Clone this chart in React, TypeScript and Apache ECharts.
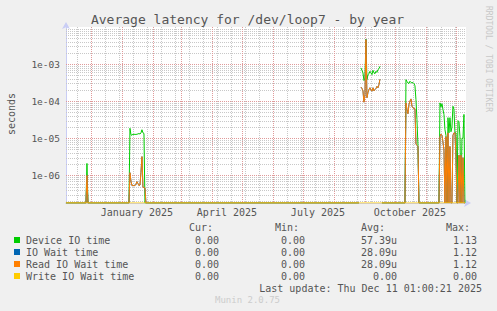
import React, { useEffect, useRef } from "react";
import * as echarts from "echarts";

// ---- time range (400 days, one point per day) ----
const AXIS_START = Date.UTC(2024, 10, 6, 1, 0, 21);
const AXIS_END = Date.UTC(2025, 11, 11, 1, 0, 21);
const FIRST_DAY = "2024-11-06";
const DAY_COUNT = 400;
const Y_MIN = 1.8e-7;
const Y_MAX = 1e-2;

// ---- series values: [first day, daily values] ----
const deviceIoSegments: [string, number[]][] = [
  ["2024-11-27", [2.1e-6]],
  ["2025-01-09", [1.86e-5, 1.25e-5, 1.2e-5, 1.3e-5, 1.25e-5, 1.3e-5, 1.25e-5, 1.3e-5, 1.3e-5, 1.35e-5, 1.3e-5, 1.4e-5, 1.7e-5, 1.4e-5, 1.35e-5]],
  ["2025-08-28", [7.9e-4, 6.8e-4, 5.8e-4, 3.6e-4, 4.2e-4, 4.7e-3, 3.8e-4, 5.2e-4, 5.5e-4, 6.4e-4, 5.8e-4, 5.2e-4, 6.8e-4, 5.8e-4, 5.5e-4, 6.4e-4, 6.0e-4, 7.1e-4, 7.5e-4, 8.7e-4]],
  ["2025-10-12", [3.8e-4, 3.4e-4, 3.1e-4, 3.0e-4, 3.45e-4, 3.2e-4, 3.1e-4, 3.2e-4, 3.0e-4, 2.6e-4, 1.1e-4, 3.2e-5, 6.5e-6]],
  ["2025-11-15", [9e-5, 7e-5, 8.5e-5, 6e-5, 4.4e-5, 1.7e-5, 1.2e-5, 0, 3.6e-5, 1.4e-5, 3.6e-5, 1.5e-5, 2e-5, 7.3e-5, 6e-5, 1.4e-5, 1.4e-5, 0, 3e-5, 2.8e-5, 1.1e-5, 0, 1e-5, 1e-5, 4.4e-5]],
];

const readWaitSegments: [string, number[]][] = [
  ["2024-11-27", [1.0e-6]],
  ["2025-01-09", [1.18e-6, 7e-7, 5.3e-7, 5.3e-7, 5.3e-7, 5.3e-7, 5.8e-7, 6.8e-7, 6e-7, 5.3e-7, 5.5e-7, 1.2e-6, 3.2e-6, 4.8e-7, 4.7e-7, 4.6e-7]],
  ["2025-08-28", [2.4e-4, 2.2e-4, 1.9e-4, 9.4e-5, 1.5e-4, 4.55e-3, 1.24e-4, 1.7e-4, 2.06e-4, 2.3e-4, 2.0e-4, 1.86e-4, 2.3e-4, 1.9e-4, 2.06e-4, 2.2e-4, 2.5e-4, 2.3e-4, 2.8e-4, 3.9e-4]],
  ["2025-10-12", [9e-5, 6e-5, 4.6e-5, 8.1e-5, 1.0e-4, 1.15e-4, 7.3e-5, 6.6e-5, 6.4e-5, 6.2e-5, 7e-6, 6.5e-6, 6e-6]],
  ["2025-11-15", [1.1e-5, 1.3e-5, 1.2e-5, 8e-6, 4.8e-6, 0, 1.1e-5, 0, 1.4e-5, 0, 6e-6, 0, 0, 1.2e-5, 1.4e-5, 1.4e-5, 3.2e-6, 0, 0, 3.5e-6, 0, 3.5e-6, 0, 3e-6, 0]],
];

// IO wait equals read IO wait in this period
const ioWaitSegments: [string, number[]][] = readWaitSegments;
const writeWaitSegments: [string, number[]][] = [];

// days without data (unknown) for device / io / read
const unknownDays = ["2025-08-27", "2025-09-17"];

// ---- axis labels ----
const xLabelDates = ["2025-01-16", "2025-04-16", "2025-07-16", "2025-10-16"];
const xLabelTexts = ["January 2025", "April 2025", "July 2025", "October 2025"];
const yLabelValues = [1e-6, 1e-5, 1e-4, 1e-3];
const yLabelTexts = ["1e-06", "1e-05", "1e-04", "1e-03"];

// ---- legend ----
const legendNames = ["Device IO time", "IO Wait time", "Read IO Wait time", "Write IO Wait time"];
const legendColors = ["#00cc00", "#0066b3", "#ff8000", "#ffcc00"];
const curValues = ["0.00", "0.00", "0.00", "0.00"];
const minValues = ["0.00", "0.00", "0.00", "0.00"];
const avgValues = ["57.39u", "28.09u", "28.09u", "0.00"];
const maxValues = ["1.13", "1.12", "1.12", "0.00"];

const TITLE = "Average latency for /dev/loop7 - by year";
const LAST_UPDATE = "Last update: Thu Dec 11 01:00:21 2025";
const MUNIN = "Munin 2.0.75";
const WATERMARK = "RRDTOOL / TOBI OETIKER";

const DAY_MS = 86400000;
const parseDay = (s: string) => {
  const [y, m, d] = s.split("-").map(Number);
  return Date.UTC(y, m - 1, d);
};

function buildSeries(segments: [string, number[]][], unknown: string[]) {
  const start = parseDay(FIRST_DAY);
  const vals: (number | null)[] = new Array(DAY_COUNT).fill(0);
  segments.forEach(([day, list]) => {
    const off = Math.round((parseDay(day) - start) / DAY_MS);
    list.forEach((v, i) => {
      if (off + i >= 0 && off + i < DAY_COUNT) vals[off + i] = v;
    });
  });
  unknown.forEach((day) => {
    const off = Math.round((parseDay(day) - start) / DAY_MS);
    if (off >= 0 && off < DAY_COUNT) vals[off] = null;
  });
  return vals.map((v, i) => [start + i * DAY_MS, v === null ? null : Math.max(v, Y_MIN)]);
}

const FONT = "'DejaVu Sans Mono', monospace";

// dotted line as a path of 1x1 squares (every other pixel)
function dotPath(horizontal: boolean, fixed: number, from: number, to: number) {
  let d = "";
  for (let t = Math.round(from); t < to; t += 2) {
    d += horizontal ? `M${t} ${fixed}h1v1h-1z` : `M${fixed} ${t}h1v1h-1z`;
  }
  return d;
}

export default function App() {
  const ref = useRef<HTMLDivElement>(null);

  useEffect(() => {
    document.body.style.margin = "0";
    const chart = echarts.init(ref.current!, null, { renderer: "svg" });

    // grid line positions
    const monthStarts: number[] = [];
    for (let m = 0; m < 13; m++) monthStarts.push(Date.UTC(2024, 11 + m, 1));
    const biweekly: number[] = [];
    for (let t = Date.UTC(2024, 10, 17); t < AXIS_END; t += 14 * DAY_MS) biweekly.push(t);
    const minorY: number[] = [];
    for (let e = -7; e <= -3; e++) for (let k = 2; k <= 9; k++) {
      const v = k * Math.pow(10, e);
      if (v > Y_MIN) minorY.push(v);
    }
    const majorY = [1e-6, 1e-5, 1e-4, 1e-3];
    const MID_X = AXIS_START + 200 * DAY_MS;
    const MID_Y = 1e-4;

    const gridSeries = (name: string, color: string, xs: number[], ys: number[], z: number) => ({
      name,
      type: "custom",
      silent: true,
      z,
      data: [...xs.map((x) => [x, MID_Y, 0]), ...ys.map((y) => [MID_X, y, 1])],
      dimensions: ["x", "y", "dir"],
      encode: { x: 0, y: 1 },
      renderItem: (params: any, api: any) => {
        const cs = params.coordSys;
        const p = api.coord([api.value(0), api.value(1)]);
        const horizontal = Number(api.value(2)) === 1;
        const d = horizontal
          ? dotPath(true, Math.round(p[1]), cs.x, cs.x + cs.width)
          : dotPath(false, Math.round(p[0]), cs.y, cs.y + cs.height);
        return {
          type: "path",
          shape: { pathData: d },
          style: { fill: color, stroke: null },
        };
      },
    });

    const dataSeries = (name: string, color: string, segs: [string, number[]][], unknown: string[], z: number) => ({
      name,
      type: "line",
      data: buildSeries(segs, unknown),
      showSymbol: false,
      connectNulls: false,
      lineStyle: { color, width: 1 },
      itemStyle: { color },
      z,
      silent: true,
    });

    const legendGraphics: any[] = [];
    const headerY = 227;
    const heads: [string, number][] = [["Cur:", 201], ["Min:", 287], ["Avg:", 373], ["Max:", 458]];
    heads.forEach(([t, x]) =>
      legendGraphics.push({
        type: "text", x, y: headerY,
        style: { text: t, font: `10px ${FONT}`, fill: "#555", align: "center", textAlign: "center", verticalAlign: "middle", textVerticalAlign: "middle" },
      })
    );
    legendNames.forEach((n, i) => {
      const y = 240 + i * 12;
      legendGraphics.push({ type: "rect", shape: { x: 14, y: y - 3, width: 6, height: 6 }, style: { fill: legendColors[i] } });
      legendGraphics.push({
        type: "text", x: 26, y,
        style: { text: n, font: `10px ${FONT}`, fill: "#555", align: "left", textAlign: "left", verticalAlign: "middle", textVerticalAlign: "middle" },
      });
      const cols: [string[], number][] = [[curValues, 219], [minValues, 305], [avgValues, 397], [maxValues, 477]];
      cols.forEach(([arr, x]) =>
        legendGraphics.push({
          type: "text", x, y,
          style: { text: arr[i], font: `10px ${FONT}`, fill: "#555", align: "right", textAlign: "right", verticalAlign: "middle", textVerticalAlign: "middle" },
        })
      );
    });

    const labelTimes = xLabelDates.map(parseDay);

    chart.setOption({
      animation: false,
      backgroundColor: "#f0f0f0",
      grid: { left: 66, right: 31, top: 27, bottom: 108, show: true, backgroundColor: "#ffffff", borderWidth: 0 },
      xAxis: {
        type: "value",
        min: AXIS_START,
        max: AXIS_END,
        axisLine: {
          show: true, onZero: false,
          lineStyle: { color: "#c9cdf5", width: 1 },
          symbol: ["none", "arrow"], symbolSize: [6, 7], symbolOffset: [0, 5],
        },
        axisTick: { show: false },
        splitLine: { show: false },
        axisLabel: {
          customValues: labelTimes,
          formatter: (v: number) => {
            const i = labelTimes.indexOf(v);
            return i >= 0 ? xLabelTexts[i] : "";
          },
          color: "#555",
          fontFamily: FONT,
          fontSize: 10,
          margin: 4,
          hideOverlap: false,
        },
      },
      yAxis: {
        type: "log",
        logBase: 10,
        min: Y_MIN,
        max: Y_MAX,
        axisLine: {
          show: true,
          lineStyle: { color: "#c9cdf5", width: 1 },
          symbol: ["none", "arrow"], symbolSize: [6, 7], symbolOffset: [0, 5],
        },
        axisTick: { show: false },
        splitLine: { show: false },
        axisLabel: {
          formatter: (v: number) => {
            for (let i = 0; i < yLabelValues.length; i++) {
              if (Math.abs(Math.log10(v) - Math.log10(yLabelValues[i])) < 1e-6) return yLabelTexts[i];
            }
            return "";
          },
          color: "#555",
          fontFamily: FONT,
          fontSize: 9.5,
          margin: 6,
        },
      },
      series: [
        gridSeries("minorGrid", "#c8c8c8", biweekly, minorY, 1),
        gridSeries("majorGrid", "#e09a9a", monthStarts, majorY, 2),
        dataSeries(legendNames[0], legendColors[0], deviceIoSegments, unknownDays, 3),
        dataSeries(legendNames[1], legendColors[1], ioWaitSegments, unknownDays, 4),
        dataSeries(legendNames[2], legendColors[2], readWaitSegments, unknownDays, 5),
        dataSeries(legendNames[3], legendColors[3], writeWaitSegments, [], 6),
      ],
      graphic: [
        {
          type: "text", x: 247.5, y: 19,
          style: { text: TITLE, font: `13px ${FONT}`, fill: "#555", align: "center", textAlign: "center", verticalAlign: "middle", textVerticalAlign: "middle" },
        },
        {
          type: "text", x: 11, y: 114, rotation: Math.PI / 2,
          style: { text: "seconds", font: `10px ${FONT}`, fill: "#555", align: "center", textAlign: "center", verticalAlign: "middle", textVerticalAlign: "middle" },
        },
        {
          type: "text", x: 488, y: 59, rotation: -Math.PI / 2,
          style: { text: WATERMARK, font: `8px ${FONT}`, fill: "#c8c8c8", align: "center", textAlign: "center", verticalAlign: "middle", textVerticalAlign: "middle" },
        },
        ...legendGraphics,
        {
          type: "text", x: 482, y: 288,
          style: { text: LAST_UPDATE, font: `10px ${FONT}`, fill: "#555", align: "right", textAlign: "right", verticalAlign: "middle", textVerticalAlign: "middle" },
        },
        {
          type: "text", x: 247.5, y: 300,
          style: { text: MUNIN, font: `9px ${FONT}`, fill: "#cccccc", align: "center", textAlign: "center", verticalAlign: "middle", textVerticalAlign: "middle" },
        },
      ],
    });

    return () => chart.dispose();
  }, []);

  return <div ref={ref} style={{ position: "fixed", left: 0, top: 0, width: 497, height: 311 }} />;
}
